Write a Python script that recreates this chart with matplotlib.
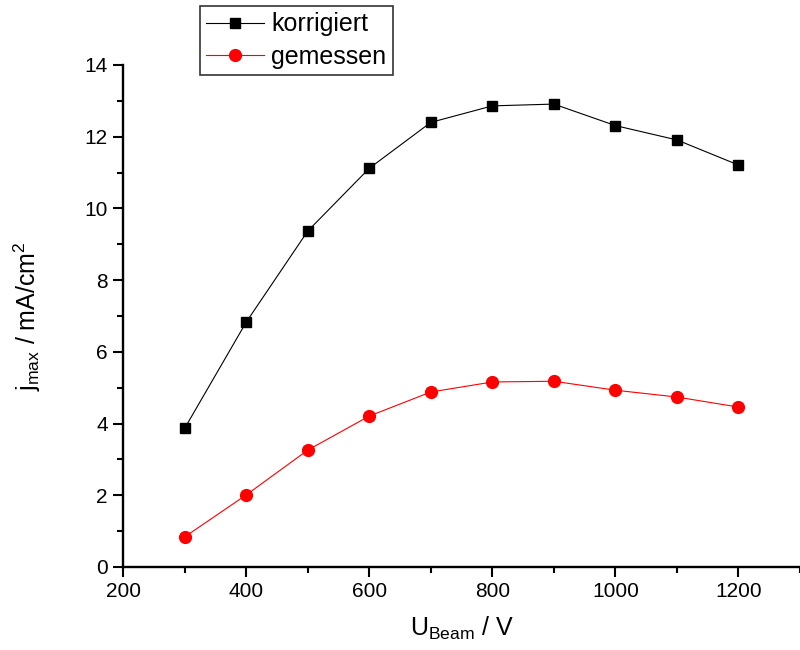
import matplotlib
matplotlib.use("Agg")
import matplotlib.pyplot as plt
from matplotlib.ticker import MultipleLocator

plt.rcParams['font.family'] = ['Liberation Sans', 'DejaVu Sans']
plt.rcParams['mathtext.fontset'] = 'custom'
plt.rcParams['mathtext.rm'] = 'Liberation Sans'
plt.rcParams['mathtext.it'] = 'Liberation Sans'

u_beam = [300, 400, 500, 600, 700, 800, 900, 1000, 1100, 1200]
korrigiert = [3.87, 6.83, 9.37, 11.12, 12.40, 12.86, 12.91, 12.31, 11.91, 11.21]
gemessen = [0.84, 2.01, 3.26, 4.21, 4.88, 5.16, 5.18, 4.93, 4.74, 4.46]

fig = plt.figure(figsize=(8, 6.5), dpi=100)
ax = fig.add_axes([0.154, 0.1277, 0.846, 0.7723])

ax.plot(u_beam, korrigiert, color='black', lw=0.8, marker='s', ms=7.5,
        label='korrigiert')
ax.plot(u_beam, gemessen, color='red', lw=0.8, marker='o', ms=8.5,
        label='gemessen')

ax.set_xlim(200, 1300)
ax.set_ylim(0, 14)
ax.xaxis.set_major_locator(MultipleLocator(200))
ax.xaxis.set_minor_locator(MultipleLocator(100))
ax.yaxis.set_major_locator(MultipleLocator(2))
ax.yaxis.set_minor_locator(MultipleLocator(1))

for s in ['top', 'right']:
    ax.spines[s].set_visible(False)
for s in ['left', 'bottom']:
    ax.spines[s].set_linewidth(1.7)
ax.tick_params(which='major', direction='out', length=7, width=1.5,
               labelsize=15, pad=4)
ax.tick_params(which='minor', direction='out', length=4, width=1.5)

ax.set_xlabel(r'U$_{\mathrm{Beam}}$ / V', fontsize=18, labelpad=10)
ax.set_ylabel(r'j$_{\mathrm{max}}$ / mA/cm$^{\mathrm{2}}$', fontsize=18,
              labelpad=30)

leg = fig.legend(loc='upper left', bbox_to_anchor=(200/800, 1 - 6/650),
                 fontsize=18, frameon=True, fancybox=False, edgecolor='black',
                 handlelength=2.3, borderpad=0.25, labelspacing=0.35,
                 handletextpad=0.3, borderaxespad=0)
leg.get_frame().set_linewidth(1.2)

fig.savefig('out.png', dpi=100)
